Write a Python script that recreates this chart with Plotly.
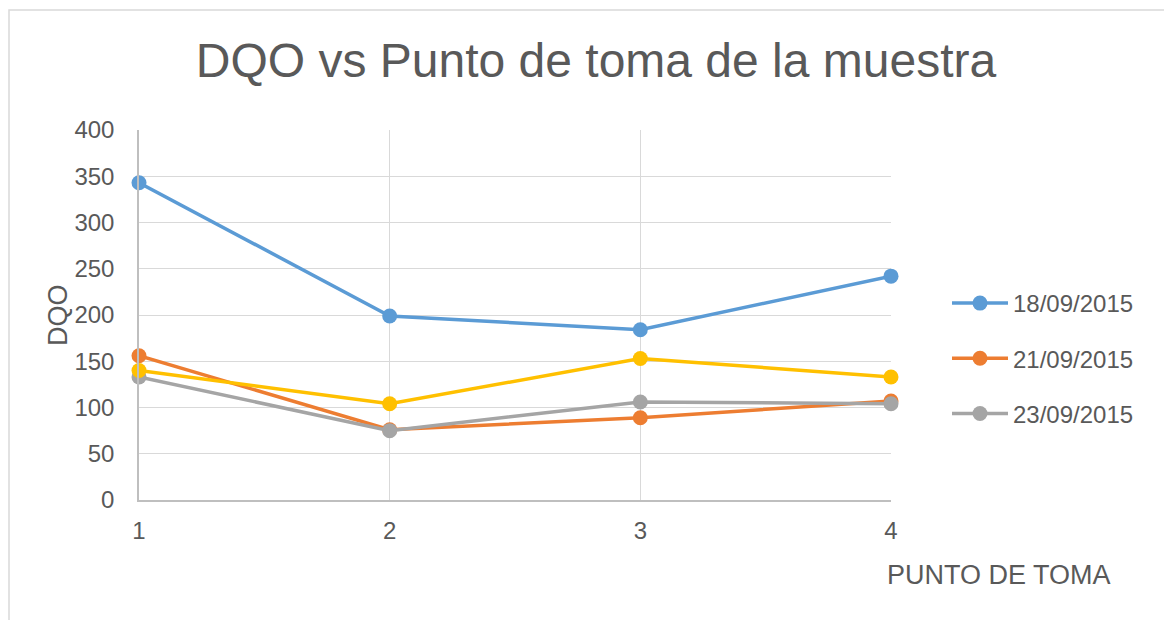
import plotly.graph_objects as go

puntos = [1, 2, 3, 4]
serie_names = ["18/09/2015", "21/09/2015", "23/09/2015", "25/09/2015"]
dqo_18 = [343, 199, 184, 242]
dqo_21 = [156, 76, 89, 107]
dqo_23 = [133, 75, 106, 104]
dqo_extra = [140, 104, 153, 133]
colors = ["#5B9BD5", "#ED7D31", "#A5A5A5", "#FFC000"]
show_legend = [True, True, True, False]

OFF = 8  # page body margin
W, H = 1172 - OFF, 620 - OFF
L, T = 139 - OFF, 130 - OFF
R = W - (891 - OFF)
B = H - (500 - OFF)
pw, ph = W - L - R, H - T - B

fig = go.Figure()
data = [dqo_18, dqo_21, dqo_23, dqo_extra]
for i in range(4):
    fig.add_trace(go.Scatter(
        x=puntos, y=data[i], name=serie_names[i], mode="lines+markers",
        line=dict(color=colors[i], width=3.5),
        marker=dict(color=colors[i], size=15),
        showlegend=show_legend[i], legendgroup=serie_names[i],
        cliponaxis=False,
    ))

def px_x(p):
    return (p - OFF - L) / pw

def px_y(p):
    return (H - B - (p - OFF)) / ph

FONT = "Liberation Sans, Arial, sans-serif"
GREY = "#595959"

fig.update_layout(
    width=W, height=H,
    margin=dict(l=L, r=R, t=T, b=B, pad=0),
    paper_bgcolor="white", plot_bgcolor="white",
    font=dict(family=FONT, color=GREY, size=24),
    title=dict(text="DQO vs Punto de toma de la muestra", xref="container",
               x=(596 - OFF) / W, xanchor="center", yref="container",
               y=1 - (60 - OFF) / H, yanchor="middle",
               font=dict(size=48, color=GREY)),
    xaxis=dict(range=[1, 4], tickvals=puntos, ticktext=[str(p) for p in puntos],
               showgrid=True, gridcolor="#d9d9d9", gridwidth=1.3,
               showline=True, linecolor="#bfbfbf", linewidth=1.5,
               ticks="", ticklabelstandoff=8, zeroline=False,
               tickfont=dict(size=24, color=GREY)),
    yaxis=dict(range=[0, 400], dtick=50, showgrid=True, gridcolor="#d9d9d9", gridwidth=1.3,
               showline=True, linecolor="#bfbfbf", linewidth=1.5,
               ticks="", ticklabelstandoff=18, zeroline=False,
               tickfont=dict(size=24, color=GREY)),
    legend=dict(x=px_x(947), xanchor="left", y=px_y(281), yanchor="top",
                font=dict(size=24, color=GREY), tracegroupgap=21, itemwidth=56,
                bgcolor="rgba(0,0,0,0)"),
    shapes=[dict(type="rect", xref="paper", yref="paper",
                 x0=px_x(9), x1=px_x(1190), y0=px_y(640), y1=px_y(10),
                 line=dict(color="#d9d9d9", width=1.5), layer="below")],
    annotations=[
        dict(text="PUNTO DE TOMA", xref="paper", yref="paper",
             x=px_x(885), xanchor="left", y=px_y(575), yanchor="middle",
             showarrow=False, font=dict(size=27, color=GREY)),
        dict(text="DQO", xref="paper", yref="paper", textangle=-90,
             x=px_x(58), xanchor="center", y=px_y(315), yanchor="middle",
             showarrow=False, font=dict(size=27, color=GREY)),
    ],
)

fig.write_html("out.html")
